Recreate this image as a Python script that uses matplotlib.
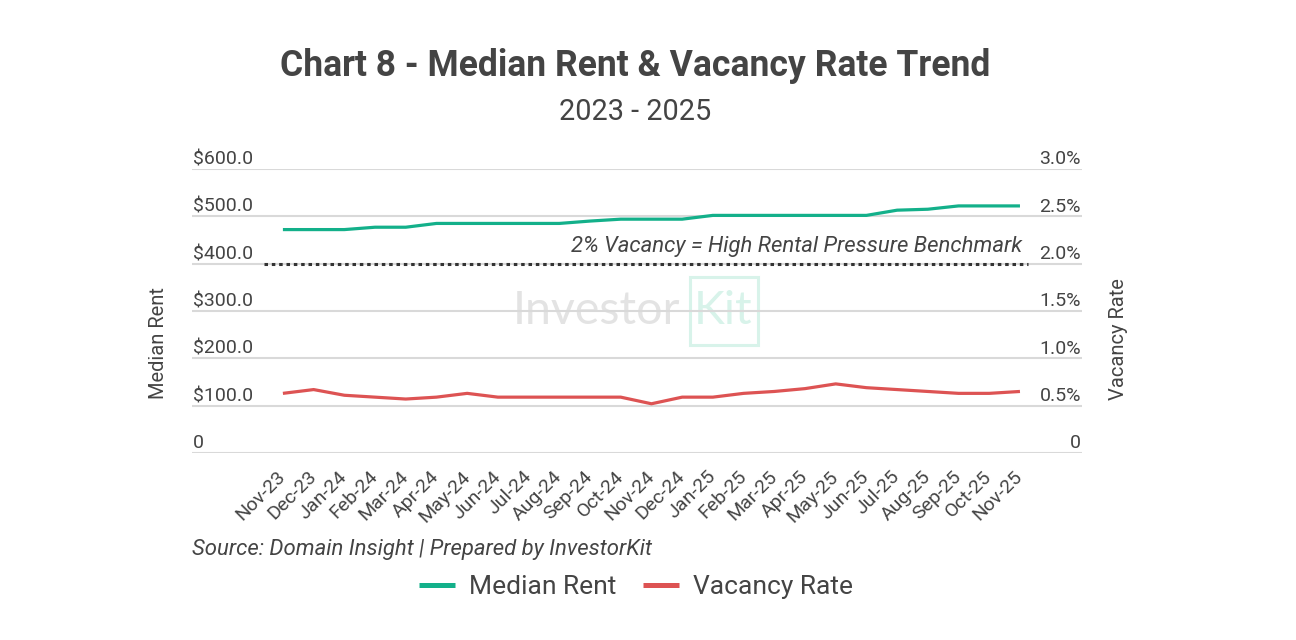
import matplotlib
matplotlib.use('Agg')
import matplotlib.pyplot as plt
import matplotlib.transforms as mtransforms
from matplotlib.patches import Rectangle

plt.rcParams['font.family'] = ['Roboto', 'DejaVu Sans']

months = ['Nov-23', 'Dec-23', 'Jan-24', 'Feb-24', 'Mar-24', 'Apr-24', 'May-24',
          'Jun-24', 'Jul-24', 'Aug-24', 'Sep-24', 'Oct-24', 'Nov-24', 'Dec-24',
          'Jan-25', 'Feb-25', 'Mar-25', 'Apr-25', 'May-25', 'Jun-25', 'Jul-25',
          'Aug-25', 'Sep-25', 'Oct-25', 'Nov-25']
median_rent = [472, 472, 472, 477, 477, 485, 485, 485, 485, 485, 490, 494, 494,
               494, 502, 502, 502, 502, 502, 502, 513, 515, 522, 522, 522]
vacancy_rate = [0.63, 0.67, 0.61, 0.59, 0.57, 0.59, 0.63, 0.59, 0.59, 0.59, 0.59,
                0.59, 0.52, 0.59, 0.59, 0.63, 0.65, 0.68, 0.73, 0.69, 0.67, 0.65,
                0.63, 0.63, 0.65]
benchmark = 2.0

rent_ticks = [0, 100, 200, 300, 400, 500, 600]
rent_tick_labels = ['0', '$100.0', '$200.0', '$300.0', '$400.0', '$500.0', '$600.0']
vac_ticks = [0, 0.5, 1.0, 1.5, 2.0, 2.5, 3.0]
vac_tick_labels = ['0', '0.5%', '1.0%', '1.5%', '2.0%', '2.5%', '3.0%']

GREEN = '#13b08a'
RED = '#dd5353'
TEXT = '#444444'
GRID = '#d9d9d9'

W, H = 1296, 640
fig = plt.figure(figsize=(W / 100, H / 100), dpi=100)
ax = fig.add_axes([192 / W, 1 - 453 / H, (1082 - 192) / W, (453 - 169) / H])
ax2 = ax.twinx()

x = list(range(len(months)))
ax.set_xlim(-2.96, 26.02)
ax.set_ylim(0, 600)
ax2.set_ylim(0, 3.0)

for a in (ax, ax2):
    for s in a.spines.values():
        s.set_visible(False)

ax.set_yticks(rent_ticks)
ax.yaxis.grid(True, color=GRID, lw=1.5)
ax.set_axisbelow(True)
ax.tick_params(axis='y', length=0, labelleft=False)
ax2.set_yticks([])

# tick labels sit above the gridlines
left_tr = mtransforms.offset_copy(
    mtransforms.blended_transform_factory(ax.transAxes, ax.transData),
    fig=fig, x=1, y=4.5, units='dots')
for v, lab in zip(rent_ticks, rent_tick_labels):
    ax.text(0, v, lab, transform=left_tr, ha='left', va='baseline',
            fontsize=14, color=TEXT)
right_tr = mtransforms.offset_copy(
    mtransforms.blended_transform_factory(ax2.transAxes, ax2.transData),
    fig=fig, x=-1, y=4.5, units='dots')
for v, lab in zip(vac_ticks, vac_tick_labels):
    ax2.text(1, v, lab, transform=right_tr, ha='right', va='baseline',
             fontsize=14, color=TEXT)

ax.set_xticks(x)
ax.set_xticklabels(months, rotation=45, ha='right', va='center',
                   rotation_mode='anchor', fontsize=14, color=TEXT)
ax.tick_params(axis='x', length=0, pad=15)

# watermark
ax.text(513 / W, 1 - 311 / H, 'Investor', transform=fig.transFigure,
        fontsize=33.5, family=['Lato', 'DejaVu Sans'], color='#e3e3e3',
        ha='left', va='center', zorder=0.2)
ax.text(694 / W, 1 - 311 / H, 'Kit', transform=fig.transFigure,
        fontsize=33.5, family=['Lato', 'DejaVu Sans'], color='#d8f3ea',
        ha='left', va='center', zorder=0.2)
ax.add_patch(Rectangle((690 / W, 1 - 345 / H), 68 / W, 68 / H,
                       transform=fig.transFigure, fill=False,
                       edgecolor='#d8f3ea', lw=2.2, zorder=0.2))

l1, = ax.plot(x, median_rent, color=GREEN, lw=2.3, solid_joinstyle='round',
              solid_capstyle='butt', zorder=3)
l2, = ax2.plot(x, vacancy_rate, color=RED, lw=2.3, solid_joinstyle='round',
               solid_capstyle='butt', zorder=3)

ax2.hlines(benchmark, -0.62, 24.26, colors='#333333', lw=2.2,
           linestyles=(0, (1.15, 1.25)), zorder=2)
ax2.annotate('2% Vacancy = High Rental Pressure Benchmark', xy=(24.06, benchmark),
             xytext=(0, 8.6), textcoords='offset points', ha='right',
             va='baseline', fontsize=15.9, style='italic', color=TEXT)

fig.text(158 / W, 1 - 343 / H, 'Median Rent', rotation=90, ha='center',
         va='center', fontsize=14.5, color=TEXT)
fig.text(1118 / W, 1 - 339 / H, 'Vacancy Rate', rotation=90, ha='center',
         va='center', fontsize=14.5, color=TEXT)

fig.text(635 / W, 1 - 66 / H, 'Chart 8 - Median Rent & Vacancy Rate Trend',
         ha='center', va='center', fontsize=25.6, fontweight='bold', color=TEXT)
fig.text(635 / W, 1 - 112 / H, '2023 - 2025', ha='center', va='center',
         fontsize=20.8, color=TEXT)

fig.text(192 / W, 1 - 555 / H, 'Source: Domain Insight | Prepared by InvestorKit',
         ha='left', va='baseline', fontsize=15.9, style='italic', color=TEXT)

leg = fig.legend(handles=[l1, l2], labels=['Median Rent', 'Vacancy Rate'],
                 loc='center', bbox_to_anchor=(636 / W, 1 - 587 / H), ncol=2,
                 frameon=False, fontsize=19, handlelength=1.36,
                 handletextpad=0.53, columnspacing=1.0, labelcolor=TEXT)
for h in leg.legend_handles:
    h.set_linewidth(3.6)

fig.savefig('out.png', dpi=100)
